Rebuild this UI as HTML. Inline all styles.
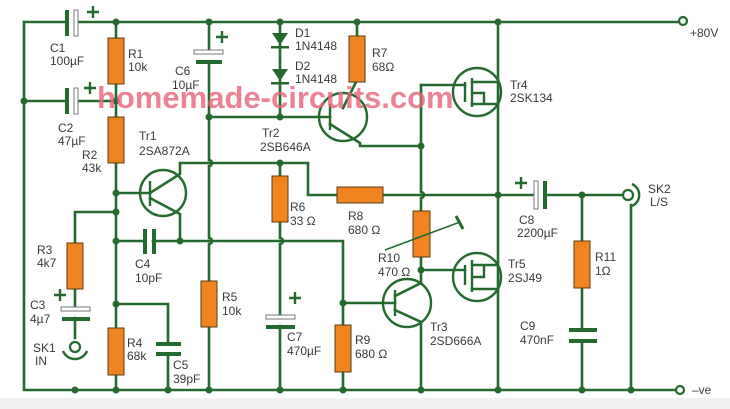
<!DOCTYPE html>
<html><head><meta charset="utf-8"><style>
html,body{margin:0;padding:0;background:#fff}
svg{display:block}
text{font-family:"Liberation Sans",sans-serif;font-size:12px;fill:#3a3a3a}
</style></head><body>
<svg width="730" height="409" viewBox="0 0 730 409" xmlns="http://www.w3.org/2000/svg">
<rect width="730" height="409" fill="#fff"/>
<rect x="0" y="398" width="730" height="11" fill="#f1f1f1"/>
<g stroke="#246a2f" stroke-width="2.6" fill="none" stroke-linecap="square">
<path d="M24 22 H65 M78 22 H679"/>
<path d="M24 22 V390 H676"/>
<path d="M24 101 H65 M78 101 H116"/>
<path d="M116 22 V390"/>
<path d="M116 193 H150"/>
<path d="M150 193 L180 174 V163 H308 V195 H498"/>
<path d="M150 198 L180 214 V241"/>
<path d="M116 241 H143 M153 241 H343 V303 H395"/>
<path d="M116 212 H75 V308 M75 318 V338"/>
<path d="M116 304 H168 V344 M168 356 V390"/>
<path d="M209 22 V50 M209 62 V160 M209 166 V238 M209 244 V390"/>
<path d="M280 22 V117 M280 163 V238 M280 244 V315 M280 326 V390"/>
<path d="M209 117 H330"/>
<path d="M343 303 V390"/>
<path d="M357 22 V60 M357 80 L343 108"/>
<path d="M330 124 L360 143 V146 H421"/>
<path d="M421 85 V192 M421 198 V283"/>
<path d="M421 85 H465"/>
<path d="M421 270 H465"/>
<path d="M395 310 L421 322 V390"/>
<path d="M395 296 L421 283"/>
<path d="M498 22 V390"/>
<path d="M472 82 H498 M472 104 H498 M472 265 H498 M472 289 H498"/>
<path d="M498 195 H533 M546 195 H624"/>
<path d="M582 195 V330 M582 342 V390"/>
<path d="M631 205 V390"/>
</g>
<g stroke="#246a2f" stroke-width="2.6" fill="none">
<path d="M209 160 a3 3 0 0 1 0 6"/>
<path d="M209 238 a3 3 0 0 1 0 6"/>
<path d="M280 238 a3 3 0 0 1 0 6"/>
<path d="M421 192 a3 3 0 0 1 0 6"/>
</g>
<g fill="#246a2f">
<circle cx="116" cy="22" r="3.5"/><circle cx="209" cy="22" r="3.5"/><circle cx="280" cy="22" r="3.5"/><circle cx="357" cy="22" r="3.5"/><circle cx="498" cy="22" r="3.5"/>
<circle cx="24" cy="101" r="3.5"/><circle cx="116" cy="101" r="3.5"/>
<circle cx="209" cy="117" r="3.5"/><circle cx="280" cy="117" r="3.5"/>
<circle cx="116" cy="193" r="3.5"/><circle cx="116" cy="212" r="3.5"/><circle cx="116" cy="241" r="3.5"/><circle cx="180" cy="241" r="3.5"/><circle cx="116" cy="304" r="3.5"/>
<circle cx="280" cy="163" r="3.5"/><circle cx="421" cy="146" r="3.5"/><circle cx="498" cy="195" r="3.5"/><circle cx="582" cy="195" r="3.5"/>
<circle cx="343" cy="303" r="3.5"/><circle cx="421" cy="270" r="3.5"/>
<circle cx="75" cy="390" r="3.5"/><circle cx="116" cy="390" r="3.5"/><circle cx="168" cy="390" r="3.5"/><circle cx="209" cy="390" r="3.5"/><circle cx="280" cy="390" r="3.5"/><circle cx="343" cy="390" r="3.5"/><circle cx="421" cy="390" r="3.5"/><circle cx="498" cy="390" r="3.5"/><circle cx="582" cy="390" r="3.5"/><circle cx="631" cy="390" r="3.5"/>
</g>
<g stroke="#246a2f" stroke-width="2.2" fill="#fff">
<circle cx="683" cy="21" r="4"/><circle cx="680" cy="390" r="4"/>
<circle cx="628" cy="195" r="5"/>
<circle cx="75" cy="347" r="5"/>
</g>
<g stroke="#246a2f" stroke-width="2.4" fill="none">
<path d="M632 184 a12 12 0 0 1 0 22"/>
<path d="M63 351 a13 13 0 0 0 24 0"/>
</g>
<g fill="#246a2f">
<rect x="65" y="10" width="4" height="26"/>
<rect x="65" y="88" width="4" height="26"/>
<rect x="196" y="60" width="26" height="4"/>
<rect x="143" y="229" width="4" height="25"/>
<rect x="152" y="229" width="4" height="25"/>
<rect x="62" y="317" width="28" height="4"/>
<rect x="156" y="342" width="25" height="4"/>
<rect x="156" y="352" width="25" height="4"/>
<rect x="266" y="325" width="29" height="4"/>
<rect x="543" y="181" width="4" height="28"/>
<rect x="569" y="328" width="28" height="4"/>
<rect x="569" y="339" width="28" height="4"/>
</g>
<g fill="#fff" stroke="#777" stroke-width="1">
<rect x="74" y="10" width="4" height="26"/>
<rect x="74" y="88" width="4" height="26"/>
<rect x="194" y="50" width="29" height="4"/>
<rect x="61" y="307" width="29" height="4"/>
<rect x="266" y="315" width="29" height="4"/>
<rect x="534" y="181" width="4" height="28"/>
</g>
<g stroke="#246a2f" stroke-width="2.4">
<path d="M87 12 H99 M93 6 V18"/>
<path d="M84 88 H96 M90 82 V94"/>
<path d="M216 37 H228 M222 31 V43"/>
<path d="M54 295 H66 M60 289 V301"/>
<path d="M289 298 H301 M295 292 V304"/>
<path d="M515 183 H527 M521 177 V189"/>
</g>
<g fill="#ef8420" stroke="#5a3b10" stroke-width="1">
<rect x="108" y="38" width="16" height="46"/>
<rect x="108" y="117" width="16" height="46"/>
<rect x="67" y="243" width="16" height="46"/>
<rect x="108" y="328" width="16" height="47"/>
<rect x="201" y="281" width="16" height="46"/>
<rect x="272" y="176" width="16" height="46"/>
<rect x="337" y="187" width="46" height="16"/>
<rect x="349" y="36" width="16" height="46"/>
<rect x="335" y="325" width="16" height="47"/>
<rect x="413" y="211" width="17" height="46"/>
<rect x="574" y="241" width="16" height="47"/>
</g>
<g stroke="#246a2f" stroke-width="1.6" fill="none">
<path d="M385 250 L460 222"/>
</g>
<path d="M456 216 L463 229" stroke="#246a2f" stroke-width="3"/>
<g fill="#246a2f">
<path d="M272 33 H288 L280 45 Z"/><rect x="271" y="46" width="18" height="2.5"/>
<path d="M272 69 H288 L280 81 Z"/><rect x="271" y="82" width="18" height="2.5"/>
</g>
<g stroke="#246a2f" stroke-width="2.4" fill="none">
<circle cx="163" cy="193" r="23"/><path d="M150 181 V206"/>
<circle cx="343" cy="117" r="24"/><path d="M330 104 V130"/>
<circle cx="407" cy="303" r="24"/><path d="M395 290 V316"/>
<circle cx="477" cy="92" r="24"/><path d="M465 82 V102 M472 78 V107"/>
<circle cx="477" cy="277" r="24"/><path d="M465 265 V285 M472 260 V292"/>
<path d="M472 93 H484 V104"/><path d="M472 277 H484 V265"/>
</g>
<text x="97" y="108" style="font-size:31px;font-weight:bold;fill:#e8657a;opacity:0.8">homemade-circuits.com</text>
<text x="50" y="52">C1</text><text x="50" y="65">100µF</text>
<text x="128" y="58">R1</text><text x="128" y="71">10k</text>
<text x="58" y="132">C2</text><text x="58" y="145">47µF</text>
<text x="82" y="159">R2</text><text x="82" y="172">43k</text>
<text x="175" y="75">C6</text><text x="172" y="89">10µF</text>
<text x="295" y="37">D1</text><text x="295" y="50">1N4148</text>
<text x="295" y="70">D2</text><text x="295" y="83">1N4148</text>
<text x="372" y="57">R7</text><text x="372" y="71">68Ω</text>
<text x="139" y="140">Tr1</text><text x="139" y="155">2SA872A</text>
<text x="262" y="137">Tr2</text><text x="260" y="151">2SB646A</text>
<text x="510" y="89">Tr4</text><text x="510" y="102">2SK134</text>
<text x="690" y="37">+80V</text>
<text x="290" y="211">R6</text><text x="290" y="225">33 Ω</text>
<text x="348" y="220">R8</text><text x="348" y="234">680 Ω</text>
<text x="519" y="224">C8</text><text x="517" y="237">2200µF</text>
<text x="648" y="193">SK2</text><text x="650" y="206">L/S</text>
<text x="37" y="254">R3</text><text x="37" y="267">4k7</text>
<text x="135" y="268">C4</text><text x="135" y="282">10pF</text>
<text x="378" y="262">R10</text><text x="378" y="276">470 Ω</text>
<text x="508" y="268">Tr5</text><text x="508" y="282">2SJ49</text>
<text x="595" y="261">R11</text><text x="595" y="275">1Ω</text>
<text x="30" y="309">C3</text><text x="30" y="323">4µ7</text>
<text x="222" y="301">R5</text><text x="222" y="315">10k</text>
<text x="33" y="352">SK1</text><text x="35" y="365">IN</text>
<text x="127" y="347">R4</text><text x="127" y="360">68k</text>
<text x="173" y="369">C5</text><text x="173" y="383">39pF</text>
<text x="287" y="341">C7</text><text x="287" y="355">470µF</text>
<text x="355" y="344">R9</text><text x="355" y="358">680 Ω</text>
<text x="430" y="331">Tr3</text><text x="430" y="345">2SD666A</text>
<text x="520" y="330">C9</text><text x="520" y="344">470nF</text>
<text x="692" y="394">–ve</text>
</svg>
</body></html>
